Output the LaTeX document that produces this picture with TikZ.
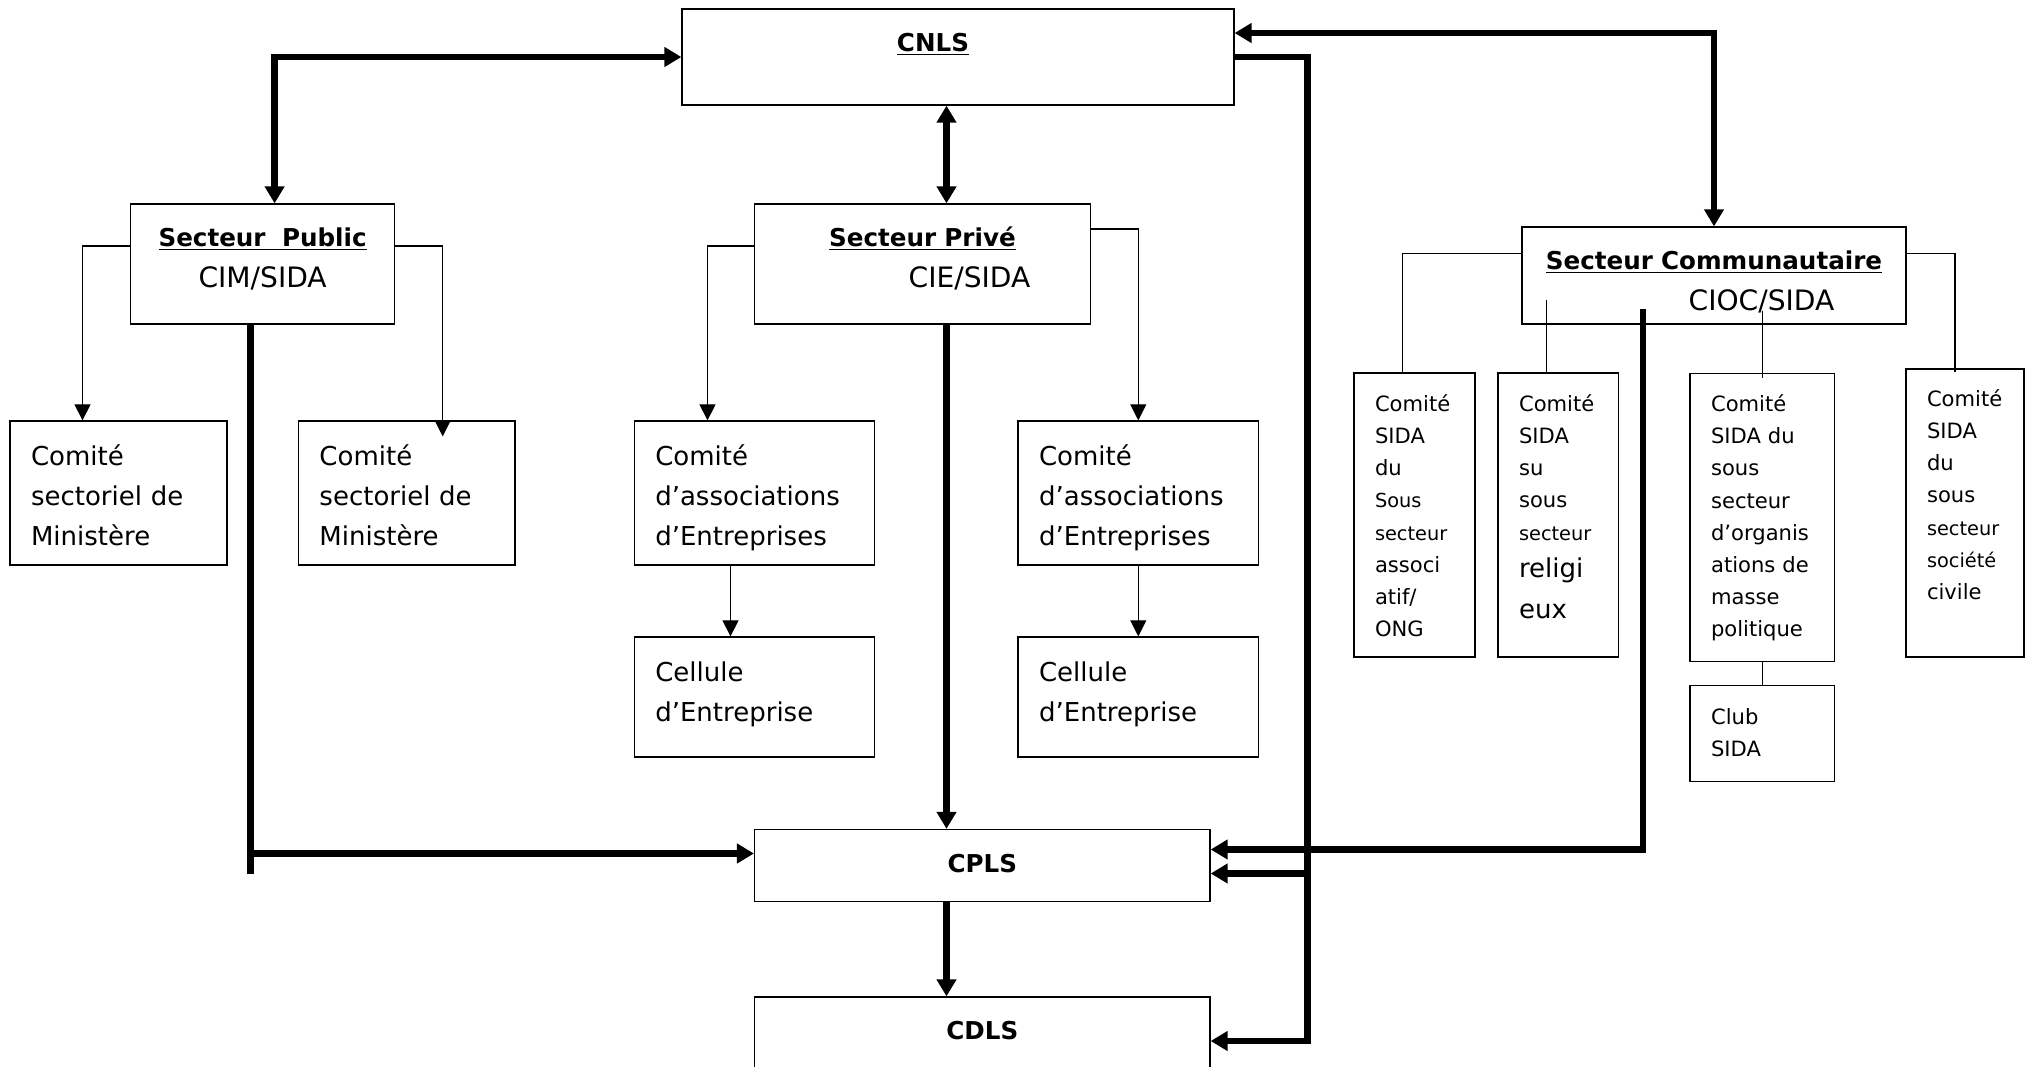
\documentclass[tikz,border=0pt]{standalone}
\usepackage{fontspec}
\setmainfont{DejaVu Sans}
\usetikzlibrary{arrows.meta,calc}
\hyphenpenalty=10000
\exhyphenpenalty=10000

\begin{document}
\begin{tikzpicture}[x=0.02cm,y=-0.02cm,
    frame/.style={draw, line width=0.75pt, inner ysep=0pt, inner xsep=0.42cm},
    hbox/.style={frame, align=center, text height=0.85cm, font=\fontsize{14}{23.2}\selectfont},
    cbox/.style={frame, align=left, text height=0.89cm, font=\fontsize{14.8}{22.8}\selectfont},
    sbox/.style={frame, align=left, text height=0.77cm, font=\fontsize{12}{18.3}\selectfont},
    arr/.style={line width=0.6pt, -{Triangle[length=0.32cm,width=0.32cm]}},
    tie/.style={line width=0.6pt},
    fatline/.style={line width=3.6pt},
    fat/.style={fatline, -{Triangle[length=0.34cm,width=0.38cm]}},
    fat2/.style={fatline, {Triangle[length=0.34cm,width=0.38cm]}-{Triangle[length=0.34cm,width=0.38cm]}}]

    \clip (0,0) rectangle (2026,1066);

    \node[hbox, text width=10.2cm, text depth=1.07cm] (cnls) at (958,57) {\underline{\textbf{CNLS}}\hspace{1cm}\null};
    \node[hbox, text width=4.44cm, text depth=1.55cm] (pub) at (262.6,264) {\underline{\textbf{Secteur~~Public}}\\{\fontsize{16}{23.2}\selectfont CIM/SIDA}};
    \node[hbox, text width=5.88cm, text depth=1.55cm] (priv) at (922.5,264) {\underline{\textbf{Secteur Privé}}\\{\fontsize{16}{23.2}\selectfont\hspace*{1.88cm}CIE/SIDA}};
    \node[hbox, text width=6.84cm, text depth=1.09cm] (comm) at (1714,275.5) {\underline{\textbf{Secteur Communautaire}}\\{\fontsize{16}{23.2}\selectfont\hspace*{1.9cm}CIOC/SIDA}};
    \node[hbox, text width=8.27cm, text depth=0.59cm] (cpls) at (982.3,865.5) {\textbf{CPLS}};
    \node[hbox, text width=8.27cm, text depth=0.91cm] (cdls) at (982.3,1041) {\textbf{CDLS}};

    \node[cbox, text width=3.5cm, text depth=1.99cm] (min1) at (118.5,493) {Comité\\sectoriel de\\Ministère};
    \node[cbox, text width=3.49cm, text depth=1.99cm] (min2) at (406.7,493) {Comité\\sectoriel de\\Ministère};
    \node[cbox, text width=3.97cm, text depth=1.99cm] (assoA) at (754.5,493) {Comité\\d’associations\\d’Entreprises};
    \node[cbox, text width=3.97cm, text depth=1.51cm] (celA) at (754.5,697) {Cellule\\d’Entreprise};
    \node[cbox, text width=3.97cm, text depth=1.99cm] (assoB) at (1138.3,493) {Comité\\d’associations\\d’Entreprises};
    \node[cbox, text width=3.97cm, text depth=1.51cm] (celB) at (1138.3,697) {Cellule\\d’Entreprise};

    \node[sbox, text width=1.58cm, text depth=4.91cm] (sc1) at (1414.5,515) {Comité\\SIDA\\du\\{\fontsize{11}{18.3}\selectfont Sous}\\{\fontsize{11}{18.3}\selectfont secteur}\\associ\\atif/\\ONG};
    \node[sbox, text width=1.57cm, text depth=4.91cm] (sc2) at (1558.3,515) {Comité\\SIDA\\su\\sous\\{\fontsize{11}{18.3}\selectfont secteur}\\[0.1cm]{\fontsize{14.8}{18.3}\selectfont religi}\\[0.19cm]{\fontsize{14.8}{18.3}\selectfont eux}};
    \node[sbox, text width=2.05cm, text depth=5cm] (sc3) at (1762.3,517.4) {Comité\\SIDA du\\sous\\secteur\\d’organis\\ations de\\masse\\politique};
    \node[sbox, text width=2.05cm, text depth=1.15cm] (club) at (1762.3,733.7) {Club\\SIDA};
    \node[sbox, text width=1.52cm, text height=0.75cm, text depth=5.01cm] (sc4) at (1965,513) {Comité\\SIDA\\du\\sous\\{\fontsize{11}{18.3}\selectfont secteur}\\{\fontsize{11}{18.3}\selectfont société}\\civile};

    \draw[fat2] (cnls.west) -| ($(pub.north)+(12,0)$);
    \coordinate (pv) at ($(priv.north)+(24,0)$);
    \draw[fat2] (pv |- cnls.south) -- (pv);
    \draw[fat2] ($(cnls.east)+(0,-24)$) -| (comm.north);
    \draw[fat] (pv |- priv.south) -- (pv |- cpls.north);
    \draw[fat] (pv |- cpls.south) -- (pv |- cdls.north);

    \coordinate (rv) at ($(cnls.east)+(73,0)$);
    \draw[fat] (cnls.east) -- (rv) |- (cdls.east);
    \coordinate (cp1) at ($(cpls.east)+(0,8)$);
    \draw[fat] (cp1 -| rv) -- (cp1);
    \coordinate (cv) at ($(comm.south)+(-71,-16)$);
    \coordinate (cp2) at ($(cpls.east)+(0,-16)$);
    \draw[fat] (cv) |- (cp2);

    \coordinate (pb) at ($(pub.south)+(-12,0)$);
    \draw[fatline] (pb) -- ++(0,549);
    \coordinate (cp3) at ($(cpls.west)+(0,-12)$);
    \draw[fat] (cp3 -| pb) -- (cp3);

    \draw[arr] ($(pub.west)+(0,-18)$) -| ($(min1.north)+(-36,0)$);
    \draw[arr] ($(pub.east)+(0,-18)$) -| ($(min2.north)+(36,16)$);
    \draw[arr] ($(priv.west)+(0,-18)$) -| ($(assoA.north)+(-47,0)$);
    \draw[arr] ($(priv.east)+(0,-35)$) -| (assoB.north);
    \draw[arr] ($(assoA.south)+(-24,0)$) -- ($(celA.north)+(-24,0)$);
    \draw[arr] (assoB) -- (celB);

    \draw[tie] ($(comm.west)+(0,-22)$) -| ($(sc1.north)+(-12,0)$);
    \draw[tie] ($(sc2.north)+(-12,-72)$) -- ($(sc2.north)+(-12,0)$);
    \draw[tie] ($(sc3.north)+(0,-62)$) -- ($(sc3.north)+(0,5)$);
    \draw[tie] ($(comm.east)+(0,-22)$) -| ($(sc4.north)+(-10,4)$);
    \draw[tie] (sc3) -- (club);

\end{tikzpicture}
\end{document}
